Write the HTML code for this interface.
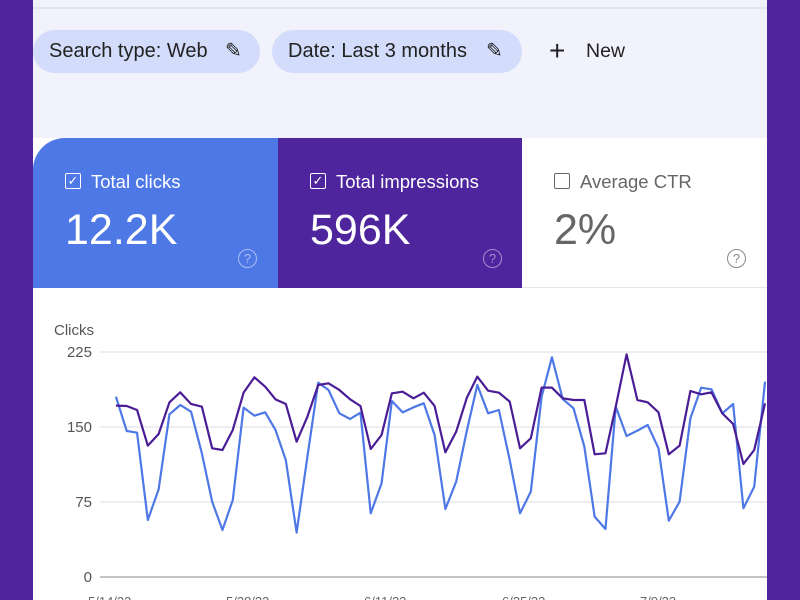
<!DOCTYPE html>
<html><head><meta charset="utf-8"><style>
body{margin:0;width:800px;height:600px;overflow:hidden;background:#50249c;font-family:"Liberation Sans",Arial,sans-serif;position:relative}
.main{position:absolute;left:33px;top:0;width:734px;height:600px;background:#fff;overflow:hidden}
.top{position:absolute;left:0;top:0;width:734px;height:138px;background:#f2f2fc}
.line{position:absolute;left:0;top:7px;width:734px;height:2px;background:#e4e4ee}
.chip{position:absolute;top:30px;height:43px;border-radius:22px;background:#d3dcfa;font-size:20px;color:#222;line-height:43px;padding-left:16px;box-sizing:border-box;white-space:nowrap}
.card{position:absolute;top:138px;height:150px;width:245px;box-sizing:border-box}
.lbl{position:absolute;left:58px;top:33px;font-size:18.5px}
.cb{position:absolute;left:32px;top:35px;width:16px;height:16px;border:1.5px solid;border-radius:2px;box-sizing:border-box;font-size:13px;line-height:13px;text-align:center}
.val{position:absolute;left:32px;top:68px;font-size:43px}
.q{position:absolute;left:205px;top:111px;width:19px;height:19px;border:1.5px solid;border-radius:50%;box-sizing:border-box;font-size:13px;line-height:17px;text-align:center}
</style></head><body>
<div class="main">
<div class="top"><div class="line"></div>
<div class="chip" style="left:0;width:227px">Search type: Web <span style="position:absolute;left:192px">✎</span></div>
<div class="chip" style="left:239px;width:250px">Date: Last 3 months <span style="position:absolute;left:214px">✎</span></div>
<div style="position:absolute;left:516px;top:36px;font-size:28px;line-height:30px;color:#222">+</div>
<div style="position:absolute;left:553px;top:40px;font-size:19.5px;color:#222">New</div>
</div>
<div class="card" style="left:0;background:#4e78e6;color:#fff;border-top-left-radius:32px"><div class="cb">✓</div><div class="lbl">Total clicks</div><div class="val">12.2K</div><div class="q" style="border-color:#a9bef5;color:#a9bef5">?</div></div>
<div class="card" style="left:245px;background:#4f259e;color:#fff"><div class="cb">✓</div><div class="lbl">Total impressions</div><div class="val">596K</div><div class="q" style="border-color:#a58fd0;color:#a58fd0">?</div></div>
<div class="card" style="left:489px;background:#fff;color:#666;border-bottom:1px solid #e6e6e6"><div class="cb" style="border-color:#666"></div><div class="lbl">Average CTR</div><div class="val" style="color:#666">2%</div><div class="q" style="border-color:#888;color:#888">?</div></div>
</div>
<svg width="800" height="600" style="position:absolute;left:0;top:0">
<defs><clipPath id="c"><rect x="33" y="290" width="734" height="310"/></clipPath></defs>
<g font-family="Liberation Sans,Arial,sans-serif" font-size="15" fill="#555">
<text x="54" y="335">Clicks</text>
<text x="92" y="357" text-anchor="end">225</text>
<text x="92" y="432" text-anchor="end">150</text>
<text x="92" y="507" text-anchor="end">75</text>
<text x="92" y="582" text-anchor="end">0</text>
<g font-size="13" fill="#666"><text x="88" y="606">5/14/23</text><text x="226" y="606">5/28/23</text><text x="364" y="606">6/11/23</text><text x="502" y="606">6/25/23</text><text x="640" y="606">7/9/23</text></g>
</g>
<g clip-path="url(#c)">
<line x1="100" y1="352" x2="767" y2="352" stroke="#e8e8ee" stroke-width="1.5"/>
<line x1="100" y1="427" x2="767" y2="427" stroke="#e8e8ee" stroke-width="1.5"/>
<line x1="100" y1="502" x2="767" y2="502" stroke="#e8e8ee" stroke-width="1.5"/>
<line x1="100" y1="577" x2="767" y2="577" stroke="#888" stroke-width="1"/>
<g transform="translate(30,300) scale(0.491,0.3333)" fill="none" stroke-linejoin="round">
<polyline vector-effect="non-scaling-stroke" stroke="#4e78e6" stroke-width="2.2" points="175,290 197,393 218,398 240,660 262,568 284,343 306,315 328,335 350,460 371,605 392,690 413,600 435,323 457,347 479,337 500,390 521,480 543,698 565,470 587,248 608,270 630,340 652,357 673,338 694,640 716,550 737,303 759,337 781,322 802,310 824,405 846,627 868,545 890,390 911,255 933,340 955,330 977,480 998,640 1020,575 1042,290 1063,172 1085,297 1107,325 1129,440 1150,650 1172,687 1193,320 1215,408 1237,392 1258,375 1280,445 1301,662 1323,605 1345,355 1367,263 1388,268 1410,340 1432,312 1453,625 1475,560 1497,245"/>
<polyline vector-effect="non-scaling-stroke" stroke="#4a1d96" stroke-width="2.2" points="175,317 197,318 218,330 240,437 262,402 284,307 306,277 328,312 350,320 371,445 392,450 413,390 435,278 457,232 479,260 500,298 521,312 543,425 565,350 587,255 608,250 630,270 652,298 673,318 694,447 716,405 737,280 759,275 781,295 802,278 824,318 846,457 868,395 890,292 911,230 933,272 955,278 977,305 998,445 1020,415 1042,263 1063,263 1085,295 1107,300 1129,300 1150,463 1172,460 1193,320 1215,163 1237,300 1258,307 1280,337 1301,463 1323,437 1345,273 1367,283 1388,277 1410,340 1432,372 1453,492 1475,450 1497,310"/>
</g>
</g>
</svg>
</body></html>
